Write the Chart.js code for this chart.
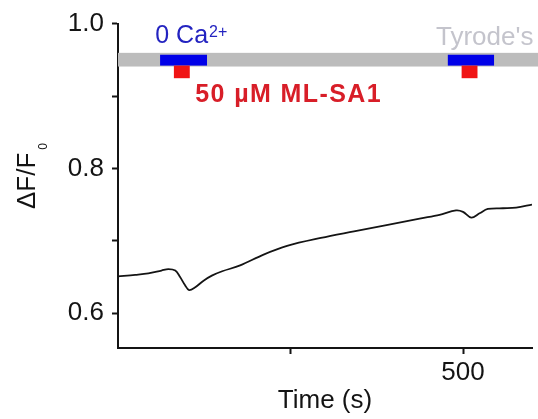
<!DOCTYPE html>
<html>
<head>
<meta charset="utf-8">
<script src="https://cdn.jsdelivr.net/npm/chart.js@4.4.0/dist/chart.umd.min.js"></script>
<style>
  html, body { margin: 0; padding: 0; background: #fff; }
  #wrap { width: 538px; height: 419px; }
</style>
</head>
<body>
<div id="wrap"><canvas id="trace"></canvas></div>
<script>
// fluorescence trace, time in s
const time = [0, 25, 44, 63, 73, 83, 90, 97, 103, 112, 124, 136, 151, 177, 211, 245, 294, 342, 391, 439, 466, 490, 500, 512, 524, 536, 558, 577, 600];
const dF = [0.651, 0.653, 0.655, 0.659, 0.661, 0.659, 0.650, 0.639, 0.632, 0.636, 0.645, 0.652, 0.658, 0.666, 0.681, 0.693, 0.704, 0.713, 0.722, 0.731, 0.736, 0.742, 0.740, 0.732, 0.738, 0.744, 0.745, 0.746, 0.750];

// perfusion periods (s)
const tyrodeSpan = [0, 610];
const zeroCaSpans = [[61, 129], [478, 545]];
const mlsa1Spans = [[81, 104], [498, 521]];

const yTicks = [0.6, 0.7, 0.8, 0.9, 1.0];
const yTickLabels = ['0.6', '', '0.8', '', '1.0'];
const xTicks = [250, 500];
const xTickLabels = ['', '500'];

const FONT = 'Liberation Sans';
const INK = '#141414';

const perfusionBars = {
  id: 'perfusionBars',
  afterDatasetsDraw(chart) {
    const { ctx, scales: { x, y } } = chart;
    const box = (x0, x1, yTop, yBot, color) => {
      const l = x.getPixelForValue(x0), r = x.getPixelForValue(x1);
      const t = y.getPixelForValue(yTop), b = y.getPixelForValue(yBot);
      ctx.fillStyle = color;
      ctx.fillRect(l, t, r - l, b - t);
    };
    ctx.save();
    box(tyrodeSpan[0], tyrodeSpan[1], 0.9596, 0.9407, '#bcbcbc');
    zeroCaSpans.forEach(s => box(s[0], s[1], 0.957, 0.942, '#0000e8'));
    mlsa1Spans.forEach(s => box(s[0], s[1], 0.942, 0.9246, '#f01414'));

    ctx.textBaseline = 'alphabetic';

    // 0 Ca2+
    let px = x.getPixelForValue(54), py = y.getPixelForValue(0.973);
    ctx.fillStyle = '#2323c0';
    ctx.textAlign = 'left';
    ctx.font = `25px "${FONT}"`;
    ctx.fillText('0 Ca', px, py);
    px += ctx.measureText('0 Ca').width + 1;
    ctx.font = `16px "${FONT}"`;
    ctx.fillText('2+', px, py - 6);

    // Tyrode's
    ctx.fillStyle = '#c4c4cc';
    ctx.textAlign = 'right';
    ctx.font = `26px "${FONT}"`;
    ctx.fillText("Tyrode's", x.getPixelForValue(602), y.getPixelForValue(0.970));

    // ML-SA1
    ctx.fillStyle = '#d81e28';
    ctx.textAlign = 'left';
    ctx.font = `bold 25px "${FONT}"`;
    ctx.letterSpacing = '1.4px';
    ctx.fillText('50 µM ML-SA1', x.getPixelForValue(112), y.getPixelForValue(0.892));
    ctx.letterSpacing = '0px';

    // y axis title: ΔF/F0
    ctx.fillStyle = INK;
    ctx.translate(35, 176);
    ctx.rotate(-Math.PI / 2);
    ctx.font = `26px "${FONT}"`;
    const w1 = ctx.measureText('ΔF/F').width;
    ctx.font = `12px "${FONT}"`;
    const w2 = ctx.measureText('0').width;
    const start = -(w1 + w2 + 3) / 2;
    ctx.font = `26px "${FONT}"`;
    ctx.fillText('ΔF/F', start, 0);
    ctx.font = `12px "${FONT}"`;
    ctx.fillText('0', start + w1 + 3, 12);
    ctx.restore();
  }
};

new Chart(document.getElementById('trace'), {
  type: 'line',
  data: {
    datasets: [{
      data: time.map((t, i) => ({ x: t, y: dF[i] })),
      borderColor: INK,
      borderWidth: 1.8,
      pointRadius: 0,
      tension: 0.35
    }]
  },
  options: {
    responsive: true,
    maintainAspectRatio: false,
    animation: false,
    layout: { padding: { top: 15, right: 6, left: 0, bottom: 0 } },
    plugins: { legend: { display: false }, tooltip: { enabled: false } },
    scales: {
      x: {
        type: 'linear',
        min: 0,
        max: 600,
        afterBuildTicks: s => { s.ticks = xTicks.map(v => ({ value: v })); },
        afterFit: s => { s.height = 71; },
        ticks: {
          callback: (v, i) => xTickLabels[i],
          font: { family: FONT, size: 26 },
          color: INK,
          padding: 3,
          maxRotation: 0,
          autoSkip: false
        },
        grid: { drawOnChartArea: false, tickLength: 6, tickWidth: 2, color: INK },
        border: { color: INK, width: 2 },
        title: {
          display: true,
          text: 'Time (s)',
          font: { family: FONT, size: 26 },
          color: INK,
          padding: { top: 0, bottom: 3 }
        }
      },
      y: {
        min: 0.552,
        max: 1.0,
        afterBuildTicks: s => { s.ticks = yTicks.map(v => ({ value: v })); },
        afterFit: s => { s.width = 118; },
        ticks: {
          callback: (v, i) => yTickLabels[i],
          font: { family: FONT, size: 26 },
          color: INK,
          padding: 8,
          autoSkip: false
        },
        grid: { drawOnChartArea: false, tickLength: 6, tickWidth: 2, color: INK },
        border: { color: INK, width: 2 }
      }
    }
  },
  plugins: [perfusionBars]
});
</script>
</body>
</html>
